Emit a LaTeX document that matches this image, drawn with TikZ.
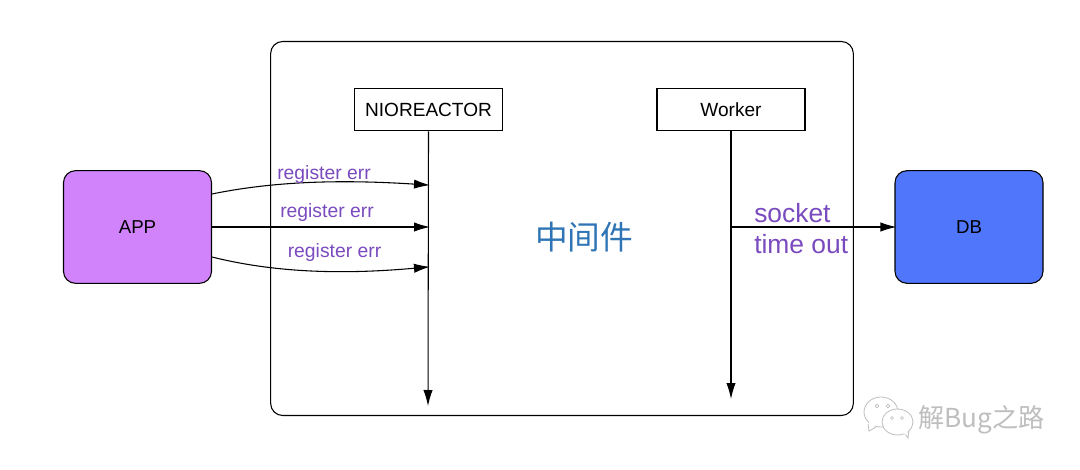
\documentclass[tikz,border=0pt]{standalone}
\usepackage{fontspec}
\setmainfont{Liberation Sans}
\newfontfamily\cjk{Noto Sans CJK SC}
\usetikzlibrary{arrows.meta}
\definecolor{appfill}{HTML}{D183FC}
\definecolor{dbfill}{HTML}{4F76FB}
\definecolor{lblpurple}{HTML}{7A4BBE}
\definecolor{midblue}{HTML}{2F75B5}
\definecolor{markgray}{HTML}{BEBEBE}
\tikzset{
  x=0.75pt,y=-0.75pt,
  endbox/.style={draw=black,line width=0.8pt,rounded corners=9pt,minimum width=111pt,minimum height=84.5pt,inner sep=0pt,font=\fontsize{14}{16}\selectfont},
  topbox/.style={draw=black,line width=0.8pt,fill=white,minimum width=111pt,minimum height=32pt,inner sep=0pt,font=\fontsize{14.3}{17}\selectfont},
  conn/.style={draw=black,line width=0.8pt,shorten >=-1.5pt,-{Latex[length=12pt,width=7pt]}},
  errlabel/.style={text=lblpurple,inner sep=0pt,font=\fontsize{14.5}{17}\selectfont},
  socklabel/.style={text=lblpurple,inner sep=0pt,font=\fontsize{19.8}{24}\selectfont},
  bubble/.style={draw=markgray,line width=0.6pt,fill=white},
}
\begin{document}
\begin{tikzpicture}
\useasboundingbox (0,0) rectangle (1080,470);
\fill[white] (0,0) rectangle (1080,470);
\node[draw=black,line width=0.8pt,rounded corners=9pt,minimum width=437pt,minimum height=280.5pt,inner sep=0pt] (mw) at (562,228.5) {};
\node[endbox,fill=appfill] (app) at (137.5,227) {APP};
\node[endbox,fill=dbfill] (db) at (969,227) {DB};
\node[topbox] (nio) at (428.5,109.5) {NIOREACTOR};
\node[topbox] (worker) at (731,109.5) {Worker};
\coordinate (nioend) at (428,404);
\coordinate (workerend) at (731,397);
\coordinate (a1) at (212,194);
\coordinate (a2) at (212,227);
\coordinate (a3) at (212,257);
\coordinate (t1) at (428,185);
\coordinate (t2) at (428,227);
\coordinate (t3) at (428,267);
\coordinate (w2) at (731,227);
\draw[conn] (nio.south) -- (nioend);
\draw[conn] (worker.south) -- (workerend);
\draw[conn] (a1) .. controls (280,180) and (350,180) .. (t1);
\draw[conn] (a2) -- (t2);
\draw[conn] (a3) .. controls (280,274) and (350,274) .. (t3);
\draw[conn] (w2) -- (db.west);
\node[errlabel,anchor=center] (l1) at (324,174.5) {register err};
\node[errlabel,anchor=center] (l2) at (327,213) {register err};
\node[errlabel,anchor=center] (l3) at (334.5,253) {register err};
\node[socklabel,anchor=west] (s1) at (754,213) {socket};
\node[socklabel,anchor=west] (s2) at (754,244) {time out};
\node[text=midblue,inner sep=0pt,font=\cjk\fontsize{24.5}{28}\selectfont] (mid) at (584,237) {中间件};
% watermark
\draw[bubble] (868,424) -- (869,431) -- (876,427);
\draw[bubble] (881,412) ellipse [x radius=17,y radius=15];
\fill[white] (869,422) -- (870,428) -- (876,425) -- cycle;
\draw[markgray,line width=0.5pt] (877,406) circle (1.8) (888,406) circle (1.8);
\draw[bubble] (903,431) -- (908,438) -- (909,429);
\draw[bubble] (897.5,422) ellipse [x radius=15.5,y radius=13];
\fill[white] (903,433) -- (907,435) -- (908,429) -- cycle;
\draw[markgray,line width=0.5pt] (892,418) circle (1.5) (902,418) circle (1.5);
\node[text=markgray,inner sep=0pt,anchor=west,font=\cjk\fontsize{19.6}{22}\selectfont] (wm) at (918,420) {解Bug之路};
\end{tikzpicture}
\end{document}
